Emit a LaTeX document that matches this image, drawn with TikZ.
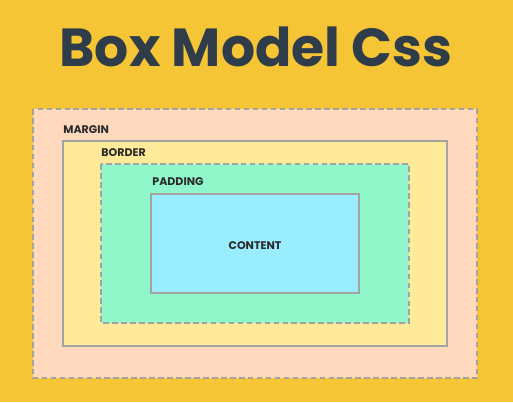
\documentclass[tikz,border=0pt]{standalone}
\usepackage{fontspec}
\setmainfont{Poppins}
\usepackage{tikz}
\definecolor{bgyellow}{HTML}{F6C536}
\definecolor{marginpeach}{HTML}{FFD9BD}
\definecolor{borderyellow}{HTML}{FEEA98}
\definecolor{paddinggreen}{HTML}{8FF7C9}
\definecolor{contentblue}{HTML}{9AEDFF}
\definecolor{edgegray}{HTML}{A3A3A3}
\definecolor{titleink}{HTML}{2F3D4A}
\definecolor{labelink}{HTML}{2A2A2A}
\tikzset{
  layer/.style={draw=edgegray, line width=0.9pt},
  cut/.style={
    draw=edgegray, line width=1.2pt,
    dash pattern=on 3.2pt off 1.9pt},
  title/.style={
    font=\bfseries\fontsize{30.5}{36}\selectfont,
    text=titleink,
    anchor=base,
    inner sep=0pt},
  tag/.style={
    font=\bfseries\fontsize{6.3}{7}\selectfont,
    text=labelink,
    anchor=base west,
    inner sep=0pt},
}
\begin{document}
\begin{tikzpicture}[x=0.02cm,y=-0.02cm]
\fill[bgyellow] (0,0) rectangle (513,402);
\useasboundingbox (0,0) rectangle (513,402);
\foreach \xa/\ya/\xb/\yb/\col/\kind in {33/109/477/378/marginpeach/cut,
  63/141/447/346/borderyellow/layer,
  101/164/409/323/paddinggreen/cut,
  151/194/359/293/contentblue/layer}{
  \draw[\kind, fill=\col] (\xa,\ya) rectangle (\xb,\yb);
  }
\node[title] (title) at (256,67) {Box Model Css};
\node[tag] (margin) at (63,133) {MARGIN};
\node[tag] (border) at (101,156) {BORDER};
\node[tag] (padding) at (152,185) {PADDING};
\node[tag, anchor=base] (content) at (255,249) {CONTENT};
\end{tikzpicture}
\end{document}
